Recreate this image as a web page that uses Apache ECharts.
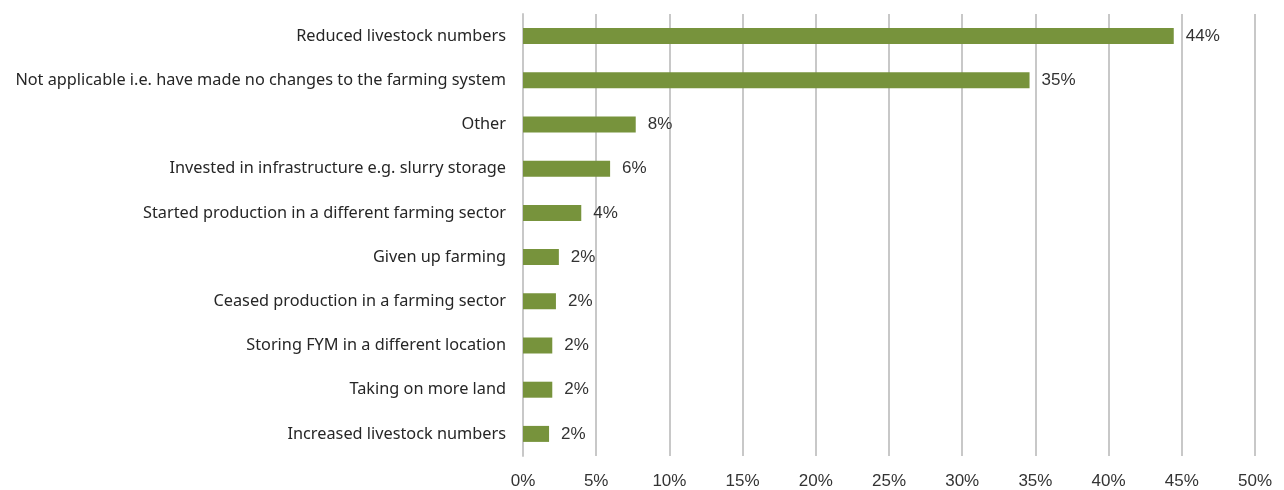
<!DOCTYPE html>
<html>
<head>
<meta charset="utf-8">
<script src="https://cdn.jsdelivr.net/npm/echarts@6/dist/echarts.min.js"></script>
<style>
  html, body { margin: 0; padding: 0; background: #ffffff; }
  #chart { width: 1284px; height: 490px; }
</style>
</head>
<body>
<div id="chart"></div>
<script>
// Changes made to the farming system (share of respondents, %)
const categories = [
  'Reduced livestock numbers',
  'Not applicable i.e. have made no changes to the farming system',
  'Other',
  'Invested in infrastructure e.g. slurry storage',
  'Started production in a different farming sector',
  'Given up farming',
  'Ceased production in a farming sector',
  'Storing FYM in a different location',
  'Taking on more land',
  'Increased livestock numbers'
];
const shares = [44.45, 34.6, 7.7, 5.95, 3.98, 2.45, 2.25, 2.0, 2.0, 1.78];
const xTicks = [0, 5, 10, 15, 20, 25, 30, 35, 40, 45, 50];

const chart = echarts.init(document.getElementById('chart'), null, { renderer: 'canvas' });

chart.setOption({
  animation: false,
  backgroundColor: '#ffffff',
  grid: { left: 523, right: 29, top: 14, bottom: 32, containLabel: false },
  xAxis: {
    type: 'value',
    min: xTicks[0],
    max: xTicks[xTicks.length - 1],
    interval: xTicks[1] - xTicks[0],
    axisLine: { show: false },
    axisTick: { show: false },
    splitLine: { show: true, lineStyle: { color: '#c8c8c8', width: 2 } },
    axisLabel: {
      formatter: v => v + '%',
      color: '#333333',
      fontSize: 17,
      fontFamily: 'Liberation Sans, Arial, sans-serif',
      margin: 17
    }
  },
  yAxis: {
    type: 'category',
    data: categories,
    inverse: true,
    axisLine: { show: true, lineStyle: { color: '#c8c8c8', width: 2 } },
    axisTick: { show: false },
    axisLabel: {
      color: '#262626',
      fontSize: 16.3,
      fontFamily: 'Noto Sans, sans-serif',
      margin: 17,
      padding: [4, 0, 0, 0]
    }
  },
  series: [{
    type: 'bar',
    data: shares,
    barWidth: 16,
    itemStyle: { color: '#77933c' },
    label: {
      show: true,
      position: 'right',
      distance: 12,
      formatter: p => Math.round(p.value) + '%',
      color: '#333333',
      fontSize: 17,
      fontFamily: 'Liberation Sans, Arial, sans-serif',
      padding: [3, 0, 0, 0]
    }
  }]
});
</script>
</body>
</html>
